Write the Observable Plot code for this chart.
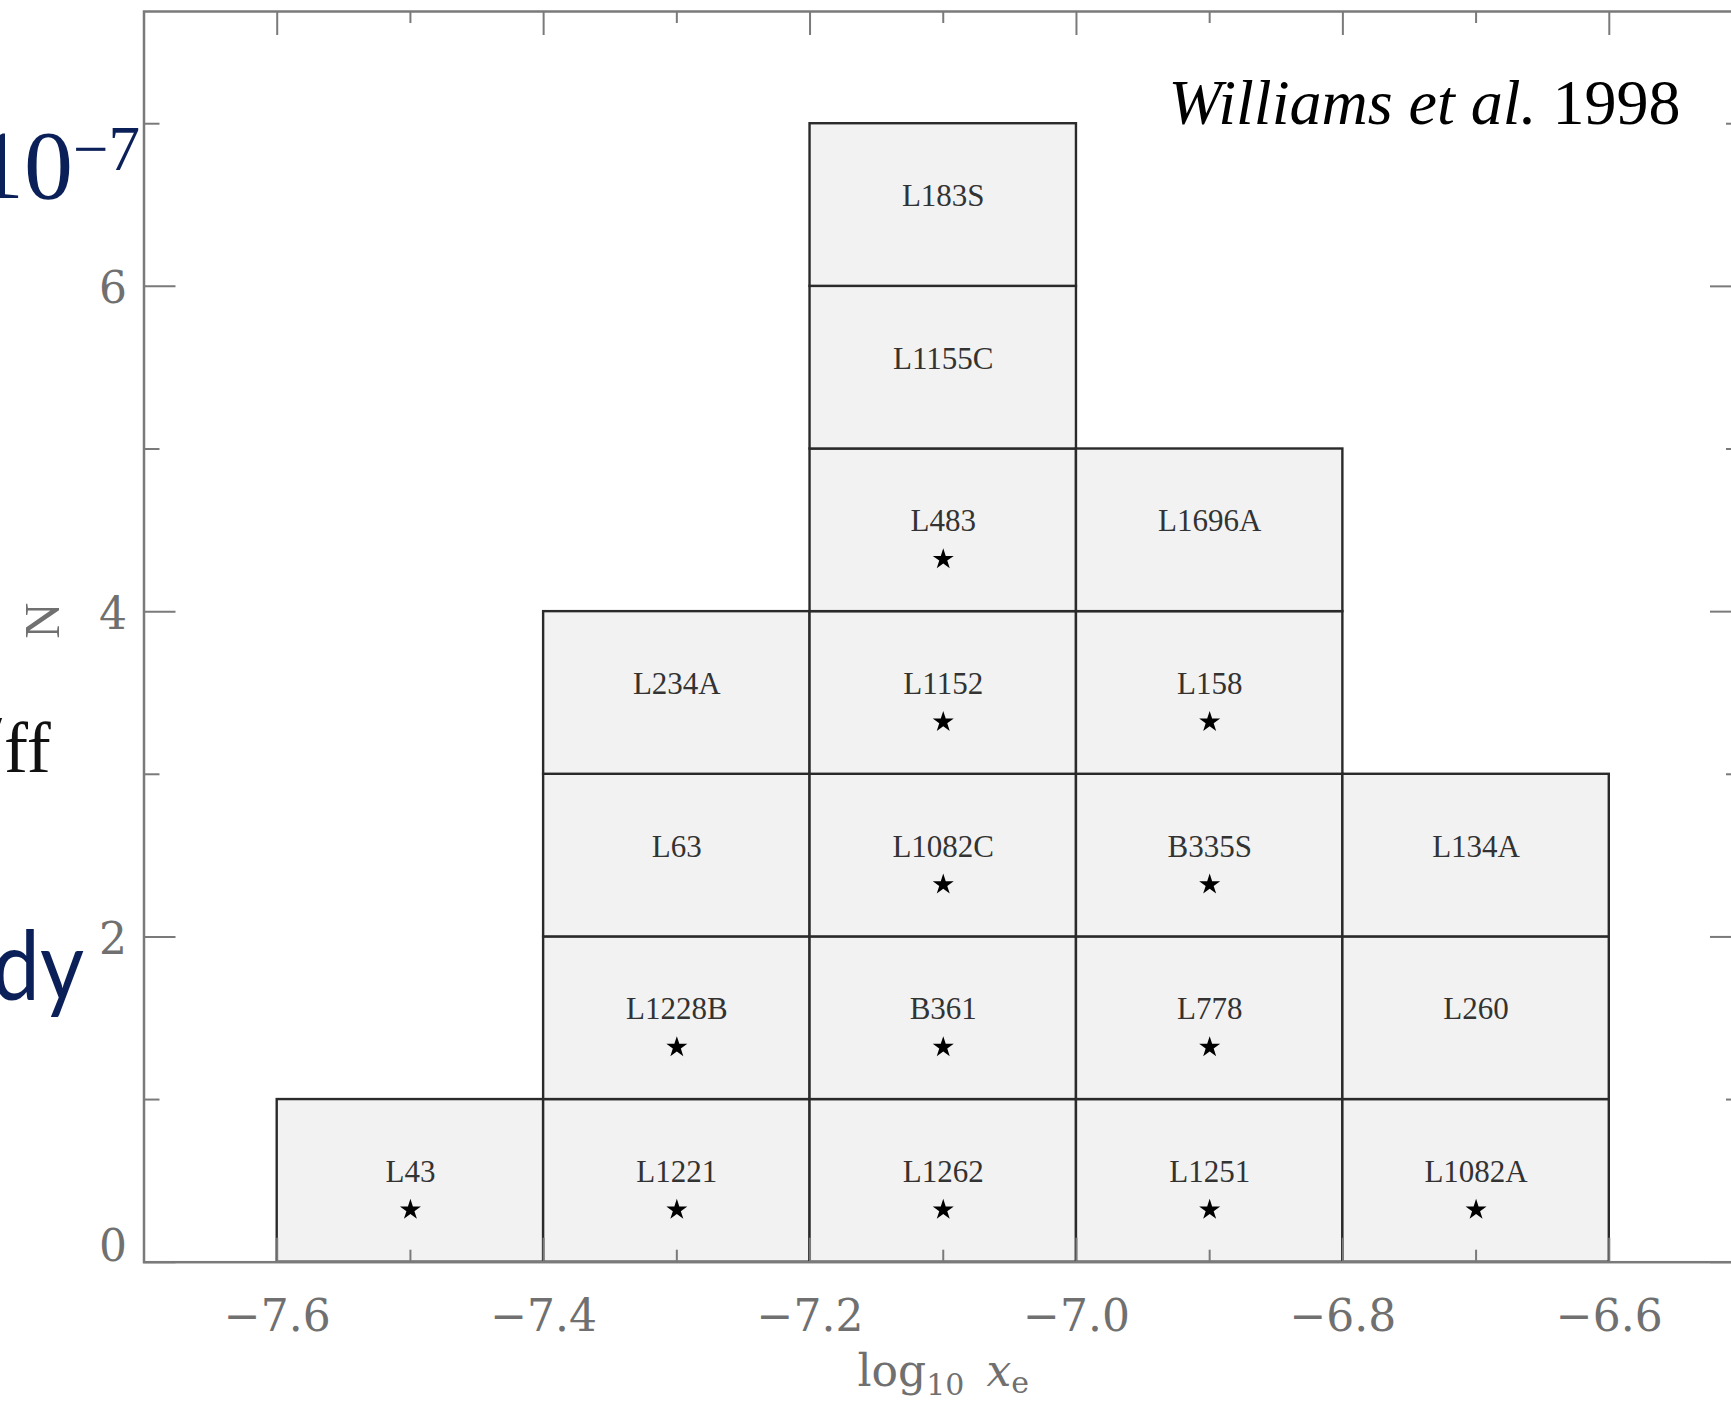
<!DOCTYPE html>
<html>
<head>
<meta charset="utf-8">
<script src="https://cdn.jsdelivr.net/npm/d3@7"></script>
<script src="https://cdn.jsdelivr.net/npm/@observablehq/plot@0.6"></script>
<style>
  html, body { margin: 0; padding: 0; background: #fff; overflow: hidden; }
  #wrap { position: relative; width: 1731px; height: 1403px; overflow: hidden; background: #fff; }
  #chart { position: absolute; left: 0; top: 0; width: 1760px; }
  #slide { position: absolute; left: 0; top: 0; pointer-events: none; }
</style>
</head>
<body>
<div id="wrap">
  <div id="chart"></div>
  <!-- slide text running along the left edge -->
  <svg id="slide" width="1731" height="1403">
    <text x="-25" y="198" font-family="Liberation Serif, Times New Roman, serif" font-size="98" fill="#0b2058">10<tspan dy="-28" font-size="63">−7</tspan></text>
    <text x="-8" y="757" font-family="Liberation Serif, Times New Roman, serif" font-size="60" fill="#111">′</text>
    <text x="4" y="772" font-family="Liberation Serif, Times New Roman, serif" font-size="72" fill="#111">ff</text>
    <text transform="scale(0.88,1)" x="-9" y="1000" font-family="Lato, 'Open Sans', sans-serif" font-size="97" fill="#0b2058">dy</text>
  </svg>
</div>
<script>
// Distribution of log10 electron fraction x_e among dense cores (Williams et al. 1998).
// Each core is one unit box stacked in its 0.2-dex bin; a star marks cores with an embedded source.
const binEdges = [-7.6, -7.4, -7.2, -7.0, -6.8, -6.6];
const coresByBin = [
  ["L43"],
  ["L1221", "L1228B", "L63", "L234A"],
  ["L1262", "B361", "L1082C", "L1152", "L483", "L1155C", "L183S"],
  ["L1251", "L778", "B335S", "L158", "L1696A"],
  ["L1082A", "L260", "L134A"]
];
const starredCores = [
  "L43", "L1221", "L1228B", "L1262", "B361", "L1082C", "L1152", "L483",
  "L1251", "L778", "B335S", "L158", "L1082A"
];
const xMajorTicks = [-7.6, -7.4, -7.2, -7.0, -6.8, -6.6];
const xMinorTicks = [-7.5, -7.3, -7.1, -6.9, -6.7];
const yMajorTicks = [0, 2, 4, 6];
const yMinorTicks = [1, 3, 5, 7];

const cells = coresByBin.flatMap((names, i) =>
  names.map((name, k) => ({
    name,
    x1: binEdges[i],
    x2: binEdges[i + 1],
    y1: k,
    y2: k + 1,
    star: starredCores.includes(name)
  }))
);

// layout
const W = 1760, H = 1403;
const mL = 143.5, mR = 18, mT = 11, mB = 141.3;
const frameW = W - mL - mR, frameH = H - mT - mB;
const axisColor = "#7a7a7a";
const textColor = "#707070";
const tickFont = "DejaVu Serif, serif";

const mid = d => (d.x1 + d.x2) / 2;

const chart = Plot.plot({
  width: W,
  height: H,
  marginLeft: mL,
  marginRight: mR,
  marginTop: mT,
  marginBottom: mB,
  style: { maxWidth: "none", background: "white", overflow: "visible" },
  x: { domain: [-7.7, -6.5] },
  y: { domain: [0, 7.69] },
  marks: [
    Plot.rect(cells, { x1: "x1", x2: "x2", y1: "y1", y2: "y2", fill: "#f2f2f2", stroke: "#2a2a2a", strokeWidth: 2.4 }),
    Plot.text(cells, { x: mid, y: d => d.y1 + 0.5, text: "name", dy: -9, fontSize: 31, fontFamily: "Liberation Serif, serif", fill: "#333" }),
    Plot.dot(cells.filter(d => d.star), { x: mid, y: d => d.y1 + 0.5, dy: 29, symbol: "star", r: 6.6, fill: "black" }),

    // inward ticks on all four sides
    Plot.ruleX(xMajorTicks, { stroke: axisColor, strokeWidth: 2, insetTop: frameH - 24 }),
    Plot.ruleX(xMinorTicks, { stroke: axisColor, strokeWidth: 2, insetTop: frameH - 12 }),
    Plot.ruleX(xMajorTicks, { stroke: axisColor, strokeWidth: 2, insetBottom: frameH - 24 }),
    Plot.ruleX(xMinorTicks, { stroke: axisColor, strokeWidth: 2, insetBottom: frameH - 12 }),
    Plot.ruleY(yMajorTicks, { stroke: axisColor, strokeWidth: 2, insetRight: frameW - 32 }),
    Plot.ruleY(yMinorTicks, { stroke: axisColor, strokeWidth: 2, insetRight: frameW - 16 }),
    Plot.ruleY(yMajorTicks, { stroke: axisColor, strokeWidth: 2, insetLeft: frameW - 32 }),
    Plot.ruleY(yMinorTicks, { stroke: axisColor, strokeWidth: 2, insetLeft: frameW - 16 }),

    Plot.frame({ stroke: axisColor, strokeWidth: 2.5 }),

    // tick labels
    Plot.axisX({ ticks: xMajorTicks, tickSize: 0, tickPadding: 38, tickFormat: d3.format(".1f"),
                 fontSize: 44, fontFamily: tickFont, color: textColor, label: null }),
    Plot.axisY({ ticks: yMajorTicks.filter(v => v > 0), tickSize: 0, tickPadding: 17, dy: 3,
                 fontSize: 44, fontFamily: tickFont, color: textColor, label: null }),
    Plot.axisY({ ticks: [0], tickSize: 0, tickPadding: 17, dy: -15,
                 fontSize: 44, fontFamily: tickFont, color: textColor, label: null }),

    // axis titles
    Plot.text(["N"], { frameAnchor: "left", rotate: -90, dx: -101.5, dy: 2, text: d => d,
                       fontSize: 50, fontFamily: "Liberation Serif, serif", fill: textColor }),
    Plot.text(["log10 xe"], { frameAnchor: "bottom", lineAnchor: "bottom", dy: 124, text: d => d,
                              fontSize: 44, fontFamily: tickFont, fill: textColor }),

    // reference note
    Plot.text(["Williams et al. 1998"], { frameAnchor: "top-right", textAnchor: "end", lineAnchor: "bottom",
                                          dx: -62, dy: 112, text: d => d,
                                          fontSize: 64, fontFamily: "Liberation Serif, serif", fill: "black" })
  ]
});

// rich text: subscripts and italics in the titles
const svg = d3.select(chart);
svg.selectAll("text").each(function () {
  const t = d3.select(this);
  const s = this.textContent;
  if (s === "log10 xe") {
    t.text(null);
    t.append("tspan").text("log");
    t.append("tspan").attr("font-size", 30).attr("dy", 9).text("10");
    t.append("tspan").attr("dy", -9).attr("dx", 22).attr("font-style", "italic").text("x");
    t.append("tspan").attr("font-size", 30).attr("dy", 7).text("e");
  } else if (s === "Williams et al. 1998") {
    t.text(null);
    t.append("tspan").attr("font-style", "italic").text("Williams et al.");
    t.append("tspan").text(" 1998");
  }
});

document.getElementById("chart").append(chart);
</script>
</body>
</html>
